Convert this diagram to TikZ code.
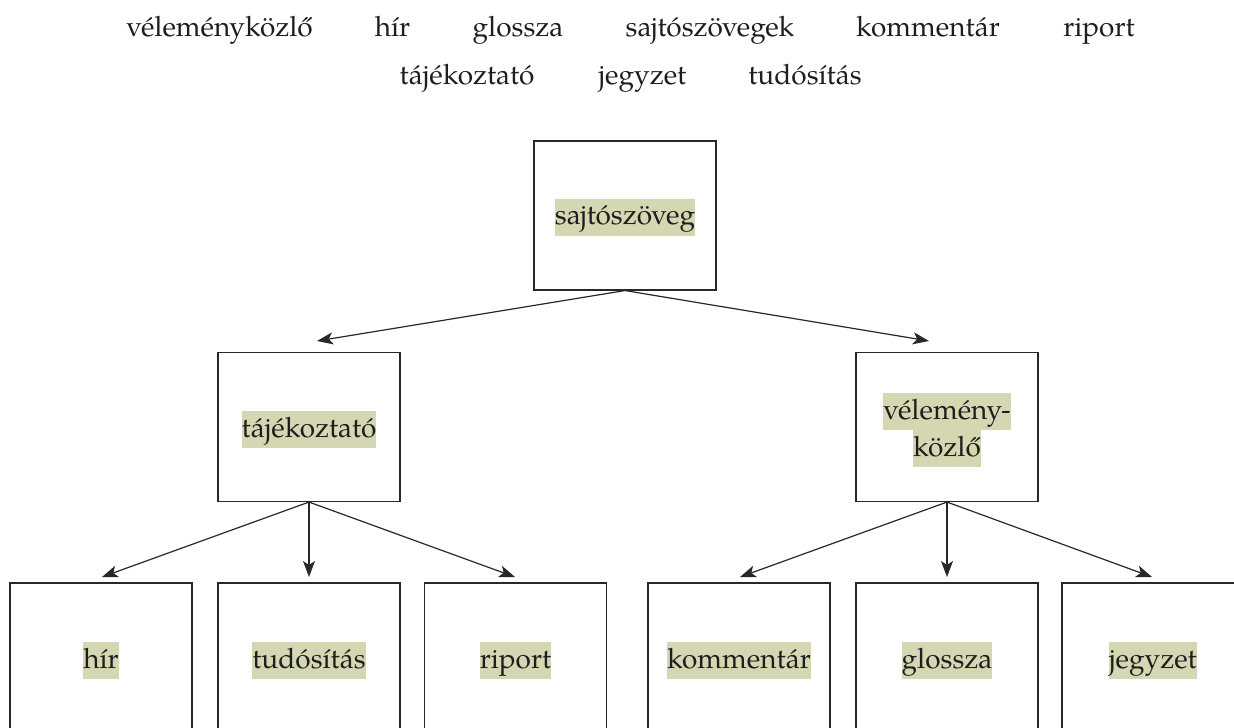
\documentclass[tikz,border=0pt]{standalone}
\usepackage{fontspec}
\setmainfont{TeX Gyre Pagella}
\usetikzlibrary{arrows.meta}
\definecolor{hl}{RGB}{213,215,178}
\definecolor{ink}{RGB}{30,30,30}
\definecolor{edge}{RGB}{40,40,40}
\begin{document}
\begin{tikzpicture}[x=1bp,y=-1bp,
  every node/.style={font=\fontsize{28bp}{35bp}\selectfont, text=ink},
  word/.style={anchor=base, inner sep=0pt},
  lbl/.style={anchor=base, inner xsep=0pt, inner ysep=0pt, fill=hl, text height=26bp, text depth=11bp},
  boxn/.style={draw=edge, line width=1.1bp, minimum width=182bp, minimum height=149bp, inner sep=0pt},
  link/.style={draw=edge, line width=1.2bp, -{Stealth[length=16bp, width=12bp, inset=4bp]}}
]
\useasboundingbox (0,0) rectangle (1234,728);
% word list
\node[word] (w1) at (219.5,37) {véleményközlő};
\node[word] (w2) at (392.5,37) {hír};
\node[word] (w3) at (518,37) {glossza};
\node[word] (w4) at (710,37) {sajtószövegek};
\node[word] (w5) at (928,37) {kommentár};
\node[word] (w6) at (1099,37) {riport};
\node[word] (w7) at (467,85) {tájékoztató};
\node[word] (w8) at (642.5,85) {jegyzet};
\node[word] (w9) at (805,85) {tudósítás};
% boxes
\node[boxn] (top) at (625,215.5) {};
\node[boxn] (taj) at (309,427) {};
\node[boxn] (vel) at (947,427) {};
\node[boxn] (hir) at (101,657.5) {};
\node[boxn] (tud) at (309,657.5) {};
\node[boxn] (rip) at (515.5,657.5) {};
\node[boxn] (kom) at (739,657.5) {};
\node[boxn] (glo) at (947,657.5) {};
\node[boxn] (jeg) at (1153,657.5) {};
% labels
\node[lbl] (ltop) at (625,225) {sajtószöveg};
\node[lbl] (ltaj) at (309,437) {tájékoztató};
\node[lbl] (lvel1) at (947,419) {vélemény-};
\node[lbl] (lvel2) at (947,456) {közlő};
\node[lbl] (lhir) at (101,668) {hír};
\node[lbl] (ltud) at (309,668) {tudósítás};
\node[lbl] (lrip) at (515.5,668) {riport};
\node[lbl] (lkom) at (739,668) {kommentár};
\node[lbl] (lglo) at (947,668) {glossza};
\node[lbl] (ljeg) at (1153,668) {jegyzet};
% arrow ends
\coordinate (e1) at (317,341);
\coordinate (e2) at (929,341);
\coordinate (e3) at (102,577);
\coordinate (e4) at (309,577);
\coordinate (e5) at (515,577);
\coordinate (e6) at (740,577);
\coordinate (e7) at (947,577);
\coordinate (e8) at (1152,577);
\draw[link] (top.south) -- (e1);
\draw[link] (top.south) -- (e2);
\draw[link] (taj.south) -- (e3);
\draw[link] (taj.south) -- (e4);
\draw[link] (taj.south) -- (e5);
\draw[link] (vel.south) -- (e6);
\draw[link] (vel.south) -- (e7);
\draw[link] (vel.south) -- (e8);
\end{tikzpicture}
\end{document}
